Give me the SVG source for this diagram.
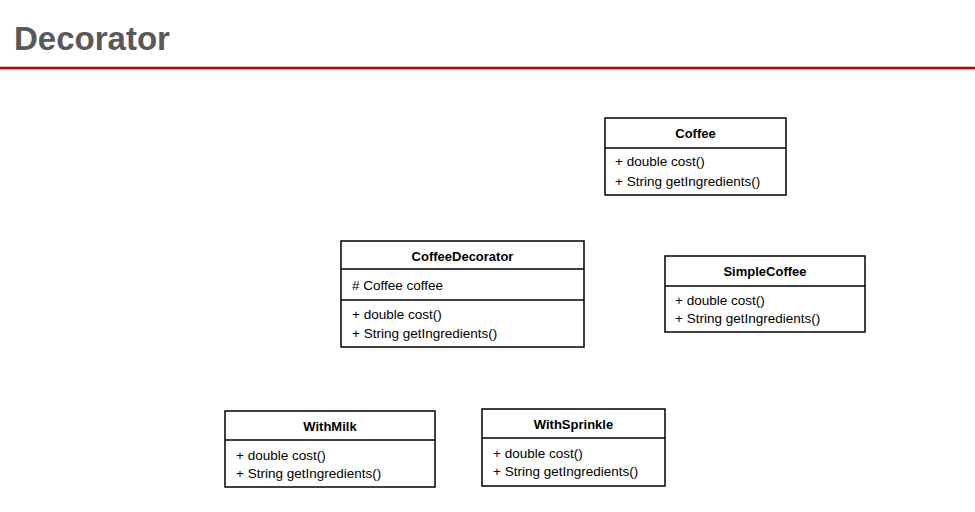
<svg xmlns="http://www.w3.org/2000/svg" width="975" height="512" viewBox="0 0 975 512">
<style>
.box{fill:#fff;stroke:#000;stroke-width:1.5}
.ln{stroke:#000;stroke-width:1.5}
.t{font-family:"Liberation Sans",Arial,sans-serif;font-size:13.5px;fill:#000}
.h{font-family:"Liberation Sans",Arial,sans-serif;font-size:13px;font-weight:bold;fill:#000;text-anchor:middle}
.title{font-family:"Liberation Sans",Arial,sans-serif;font-size:33px;font-weight:bold;fill:#595959}
</style>
<rect width="975" height="512" fill="#fff"/>
<text class="title" x="14" y="50">Decorator</text>
<line x1="0" y1="68" x2="975" y2="68" stroke="#c00000" stroke-width="2.5"/>
<g id="connectors"></g>
<g id="Coffee">
<rect class="box" x="605" y="118" width="181" height="77"/>
<line class="ln" x1="605" y1="148" x2="786" y2="148"/>
<text class="h" x="695.5" y="138">Coffee</text>
<text class="t" x="615" y="166">+ double cost()</text>
<text class="t" x="615" y="186">+ String getIngredients()</text>
</g>
<g id="CoffeeDecorator">
<rect class="box" x="341" y="241" width="243" height="106"/>
<line class="ln" x1="341" y1="269" x2="584" y2="269"/>
<line class="ln" x1="341" y1="300" x2="584" y2="300"/>
<text class="h" x="462.5" y="261">CoffeeDecorator</text>
<text class="t" x="352" y="290"># Coffee coffee</text>
<text class="t" x="352" y="319">+ double cost()</text>
<text class="t" x="352" y="338">+ String getIngredients()</text>
</g>
<g id="SimpleCoffee">
<rect class="box" x="665" y="256" width="200" height="76"/>
<line class="ln" x1="665" y1="286" x2="865" y2="286"/>
<text class="h" x="765" y="276">SimpleCoffee</text>
<text class="t" x="675" y="305">+ double cost()</text>
<text class="t" x="675" y="323">+ String getIngredients()</text>
</g>
<g id="WithMilk">
<rect class="box" x="225" y="411" width="210" height="76"/>
<line class="ln" x1="225" y1="440" x2="435" y2="440"/>
<text class="h" x="330" y="431">WithMilk</text>
<text class="t" x="236" y="460">+ double cost()</text>
<text class="t" x="236" y="478">+ String getIngredients()</text>
</g>
<g id="WithSprinkle">
<rect class="box" x="482" y="409" width="183" height="77"/>
<line class="ln" x1="482" y1="438" x2="665" y2="438"/>
<text class="h" x="573.5" y="429">WithSprinkle</text>
<text class="t" x="493" y="458">+ double cost()</text>
<text class="t" x="493" y="476">+ String getIngredients()</text>
</g>
</svg>
